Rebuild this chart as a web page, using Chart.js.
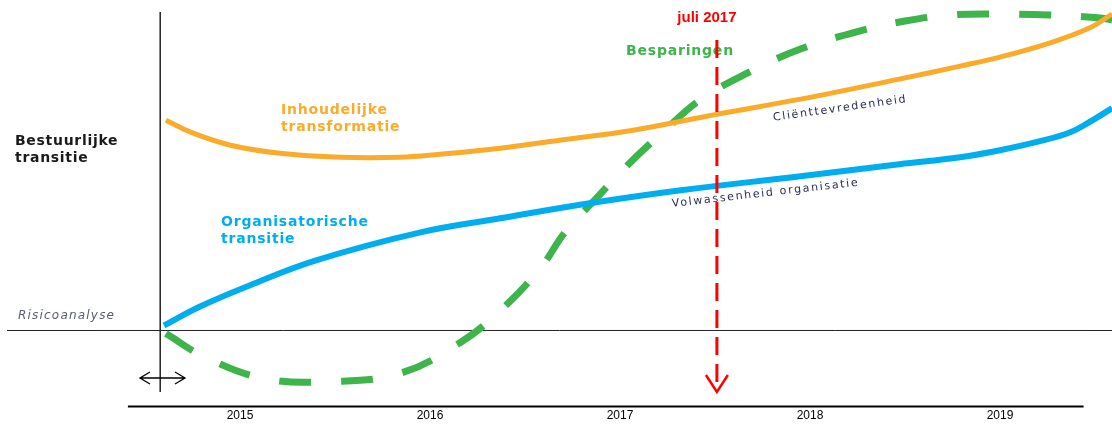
<!DOCTYPE html>
<html>
<head>
<meta charset="utf-8">
<style>
  html, body { margin: 0; padding: 0; background: #fff; }
  canvas { display: block; }
</style>
<script src="https://cdn.jsdelivr.net/npm/chart.js@4/dist/chart.umd.min.js"></script>
</head>
<body>
<canvas id="myChart" width="1112" height="426"></canvas>
<script>
// years on the x axis, level above/below the baseline on y
var yearTicks = [2015, 2016, 2017, 2018, 2019];
var markerYear = 2017.51;
var markerLabel = "juli 2017";

var orangeX = [2014.61, 2014.74, 2014.95, 2015.21, 2015.53, 2015.84, 2016.05, 2016.37, 2016.68, 2017.07, 2017.51, 2017.95, 2018.47, 2018.79, 2019.0, 2019.26, 2019.47, 2019.59];
var orangeY = [21.0, 19.8, 18.5, 17.7, 17.3, 17.3, 17.6, 18.2, 19.0, 20.0, 21.6, 23.1, 25.1, 26.4, 27.3, 28.7, 30.2, 31.6];

var blueX = [2014.6, 2014.79, 2015.05, 2015.4, 2015.95, 2016.37, 2016.84, 2017.32, 2017.95, 2018.47, 2018.79, 2019.0, 2019.21, 2019.37, 2019.47, 2019.59];
var blueY = [0.5, 2.4, 4.5, 7.0, 9.8, 11.2, 12.7, 14.0, 15.4, 16.6, 17.3, 18.0, 18.9, 19.8, 20.8, 22.2];

var greenX = [2014.61, 2014.82, 2015.13, 2015.47, 2015.84, 2016.16, 2016.37, 2016.58, 2016.71, 2016.88, 2017.05, 2017.22, 2017.42, 2017.68, 2017.95, 2018.26, 2018.5, 2018.74, 2019.0, 2019.26, 2019.53, 2019.59];
var greenY = [-0.3, -2.7, -4.8, -5.1, -4.3, -1.2, 2.0, 6.2, 9.8, 13.3, 16.7, 19.7, 23.0, 25.8, 28.1, 29.9, 30.9, 31.5, 31.6, 31.5, 31.2, 31.0];

function toPoints(xs, ys) {
  return xs.map(function (x, i) { return { x: x, y: ys[i] }; });
}

var ORANGE = "#fbab2a";
var BLUE = "#00aeef";
var GREEN = "#3db54a";
var RED = "#ff0000";
var NAVY = "#2b2d5c";

// Everything that is not a data series: axes lines, arrows, labels
var decorations = {
  id: "decorations",
  beforeDatasetsDraw: function (chart) {
    var ctx = chart.ctx;
    var xs = chart.scales.x;
    var ys = chart.scales.y;
    var x0 = xs.getPixelForValue(2014.58);
    var base = ys.getPixelForValue(0);
    ctx.save();
    ctx.strokeStyle = "#222";
    ctx.lineWidth = 1.5;
    // vertical axis
    ctx.beginPath();
    ctx.moveTo(x0, 12);
    ctx.lineTo(x0, 392);
    ctx.stroke();
    // baseline
    ctx.lineWidth = 1;
    ctx.beginPath();
    ctx.moveTo(7, base);
    ctx.lineTo(chart.width, base);
    ctx.stroke();
    // time axis
    ctx.strokeStyle = "#000";
    ctx.lineWidth = 2;
    var bottom = chart.chartArea.bottom + 1;
    ctx.beginPath();
    ctx.moveTo(xs.getPixelForValue(2014.41), bottom);
    ctx.lineTo(xs.getPixelForValue(2019.44), bottom);
    ctx.stroke();
    // double arrow
    ctx.lineWidth = 1.3;
    var ay = 378, al = 140, ar = 185;
    ctx.beginPath();
    ctx.moveTo(al, ay); ctx.lineTo(ar, ay);
    ctx.moveTo(al + 10, ay - 6); ctx.lineTo(al, ay); ctx.lineTo(al + 10, ay + 6);
    ctx.moveTo(ar - 10, ay - 6); ctx.lineTo(ar, ay); ctx.lineTo(ar - 10, ay + 6);
    ctx.stroke();

    // left side labels
    ctx.textBaseline = "middle";
    ctx.fillStyle = "#1a1a1a";
    ctx.font = "bold 14px 'DejaVu Sans'";
    ctx.letterSpacing = "0.7px";
    ctx.fillText("Bestuurlijke", 15, 141);
    ctx.fillText("transitie", 15, 158);
    ctx.fillStyle = "#5a5a7a";
    ctx.font = "oblique 12px 'DejaVu Sans'";
    ctx.letterSpacing = "1.2px";
    ctx.fillText("Risicoanalyse", 18, 316);

    // series labels
    ctx.font = "bold 14px 'DejaVu Sans'";
    ctx.letterSpacing = "0.8px";
    ctx.fillStyle = ORANGE;
    ctx.fillText("Inhoudelijke", 281, 110);
    ctx.fillText("transformatie", 281, 127);
    ctx.fillStyle = BLUE;
    ctx.fillText("Organisatorische", 221, 222);
    ctx.fillText("transitie", 221, 239);
    ctx.fillStyle = GREEN;
    ctx.fillText("Besparingen", 626, 51);

    // slanted remarks along the curves
    ctx.fillStyle = NAVY;
    ctx.font = "11px 'DejaVu Sans'";
    ctx.letterSpacing = "1.7px";
    ctx.save();
    ctx.translate(773, 118);
    ctx.rotate(-8 * Math.PI / 180);
    ctx.fillText("Cliënttevredenheid", 0, 0);
    ctx.restore();
    ctx.save();
    ctx.translate(672, 204);
    ctx.rotate(-6.5 * Math.PI / 180);
    ctx.fillText("Volwassenheid organisatie", 0, 0);
    ctx.restore();
    ctx.restore();
  },
  afterDatasetsDraw: function (chart) {
    var ctx = chart.ctx;
    var mx = chart.scales.x.getPixelForValue(markerYear);
    ctx.save();
    ctx.strokeStyle = RED;
    ctx.lineWidth = 3;
    ctx.setLineDash([18, 9]);
    ctx.beginPath();
    ctx.moveTo(mx, 40);
    ctx.lineTo(mx, 388);
    ctx.stroke();
    ctx.setLineDash([]);
    ctx.lineWidth = 2.5;
    ctx.beginPath();
    ctx.moveTo(mx - 11, 375);
    ctx.lineTo(mx, 392);
    ctx.lineTo(mx + 11, 375);
    ctx.stroke();
    ctx.fillStyle = RED;
    ctx.font = "bold 15px 'Liberation Sans'";
    ctx.textAlign = "center";
    ctx.textBaseline = "middle";
    ctx.fillText(markerLabel, mx - 10, 18);
    ctx.restore();
  }
};

var ctx = document.getElementById("myChart").getContext("2d");
var chart = new Chart(ctx, {
  type: "line",
  data: {
    datasets: [
      {
        label: "Inhoudelijke transformatie",
        data: toPoints(orangeX, orangeY),
        borderColor: ORANGE,
        borderWidth: 5,
        pointRadius: 0,
        tension: 0.4,
      },
      {
        label: "Organisatorische transitie",
        data: toPoints(blueX, blueY),
        borderColor: BLUE,
        borderWidth: 6,
        pointRadius: 0,
        tension: 0.4,
      },
      {
        label: "Besparingen",
        data: toPoints(greenX, greenY),
        borderColor: GREEN,
        borderWidth: 7,
        borderDash: [32, 30],
        borderCapStyle: "butt",
        pointRadius: 0,
        tension: 0.4,
      },
    ],
  },
  options: {
    responsive: false,
    animation: false,
    devicePixelRatio: 1,
    layout: { padding: 0 },
    plugins: {
      legend: { display: false },
      tooltip: { enabled: false },
    },
    scales: {
      x: {
        type: "linear",
        min: 2015 - 240 / 190,
        max: 2015 + 872 / 190,
        grid: { display: false, drawTicks: false },
        border: { display: false },
        afterBuildTicks: function (axis) {
          axis.ticks = yearTicks.map(function (v) { return { value: v }; });
        },
        ticks: {
          padding: 3,
          color: "#000",
          font: { family: "'Liberation Sans'", size: 12 },
          callback: function (v) { return String(v); },
        },
      },
      y: {
        display: false,
        min: -7.5,
        max: 33,
      },
    },
  },
  plugins: [decorations],
});
</script>
</body>
</html>
